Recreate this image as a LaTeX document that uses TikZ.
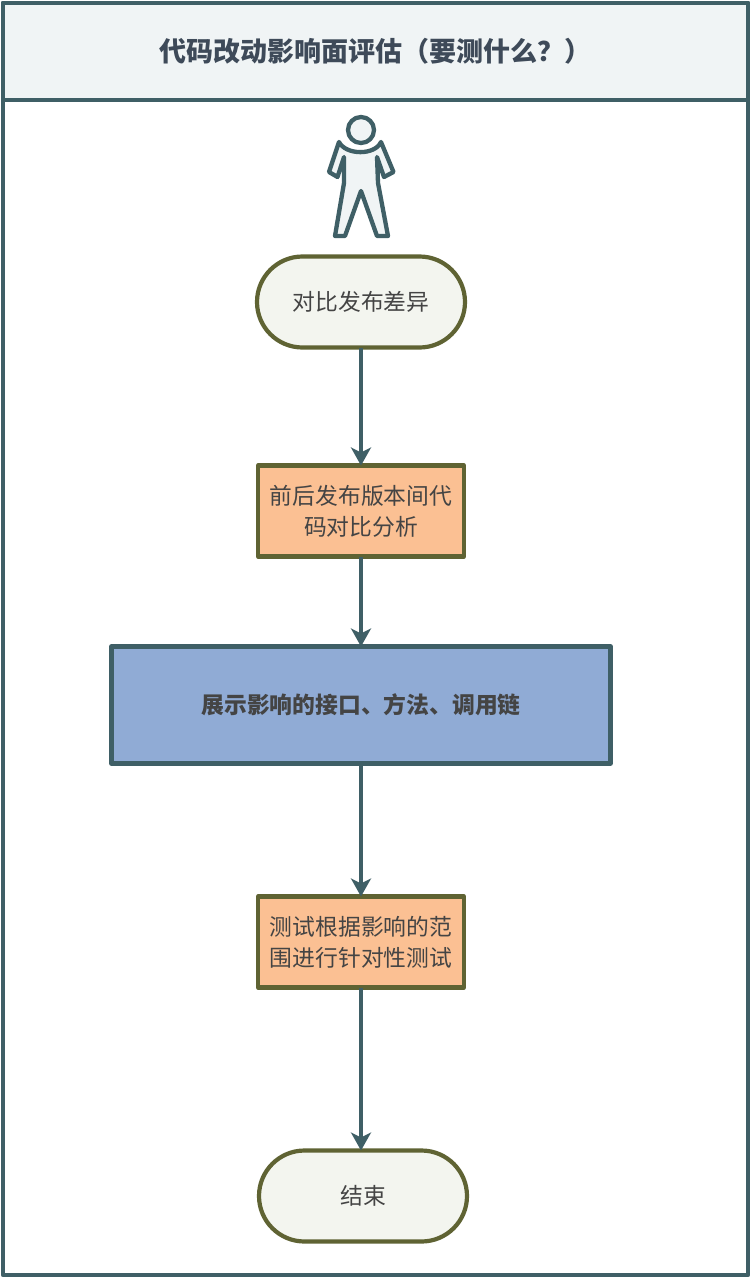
\documentclass[tikz,border=0pt]{standalone}
\usepackage{fontspec}
\setmainfont{Noto Sans CJK SC}
\usetikzlibrary{arrows.meta}
\definecolor{teal}{HTML}{3F5F66}
\definecolor{olive}{HTML}{5F6333}
\definecolor{ink}{HTML}{444444}
\definecolor{titleink}{HTML}{3E4A59}
\definecolor{pale}{HTML}{F0F4F5}
\definecolor{term}{HTML}{F3F5EF}
\definecolor{orange}{HTML}{FBC093}
\definecolor{blue}{HTML}{90ABD5}
\tikzset{
  x=1pt,y=-1pt,
  frame/.style={draw=teal,line width=4.3pt,line join=round},
  terminal/.style={draw=olive,line width=4.2pt,fill=term,rounded corners=45.5pt,minimum width=208pt,minimum height=91pt,text=ink,font=\fontsize{22.8}{28}\selectfont,inner sep=0pt,outer sep=0pt},
  process/.style={draw=olive,line width=4.2pt,fill=orange,minimum width=206pt,minimum height=91pt,text=ink,font=\fontsize{22.8}{31}\selectfont,align=center,inner sep=0pt,outer sep=0pt,line join=round},
  wide/.style={draw=teal,line width=4.2pt,fill=blue,minimum width=499pt,minimum height=117pt,text=ink,font=\fontsize{22.8}{28}\selectfont\bfseries,inner sep=0pt,outer sep=0pt,line join=round},
  flow/.style={draw=teal,line width=3.5pt,-{Stealth[length=18pt,width=20pt,inset=5pt]}},
}
\begin{document}
\begin{tikzpicture}
\useasboundingbox (0,0) rectangle (751,1280);
\path[fill=white] (0,0) rectangle (751,1280);
\draw[frame,fill=white] (3,3) rectangle (748,1275);
\draw[frame,fill=pale] (3,3) rectangle (748,100);
\node[text=titleink,font=\fontsize{27}{32}\selectfont\bfseries] (title) at (375,51) {代码改动影响面评估（要测什么？）};
% person
\draw[frame,fill=pale] (361,130) circle (13);
\draw[frame,fill=pale,line width=4.3pt]
  (339,142) .. controls (346,155.5) and (375,155.5) .. (381,142)
  -- (393.5,172) -- (384,177) -- (377,157) -- (378,183) -- (388,236) -- (377,236)
  -- (361,191) -- (345,236) -- (335,236) -- (344,183) -- (344,157) -- (337.5,177) -- (329,172) -- cycle;
\node[terminal] (start) at (361,302) {对比发布差异};
\node[process] (diff) at (361,511) {前后发布版本间代\\码对比分析};
\node[wide] (show) at (361,705) {展示影响的接口、方法、调用链};
\node[process] (test) at (361,942) {测试根据影响的范\\围进行针对性测试};
\node[terminal] (stop) at (363,1196) {结束};
\draw[flow] (start) -- (diff);
\draw[flow] (diff) -- (show);
\draw[flow] (show) -- (test);
\draw[flow] (test.south) -- (test.south |- stop.north);
\end{tikzpicture}
\end{document}
